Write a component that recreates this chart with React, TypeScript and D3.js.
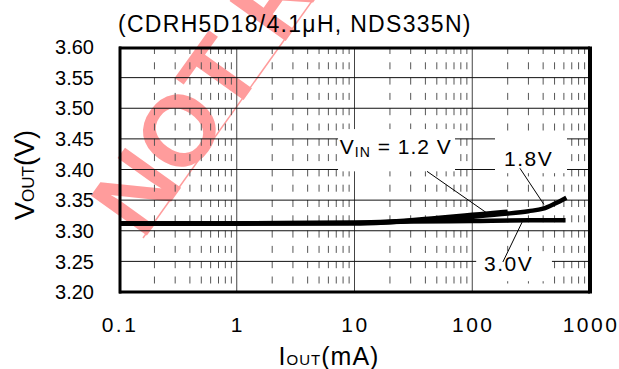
import React from "react";
import * as d3 from "d3";

const W = 619;
const H = 369;

// axes
const xDomain = [0.1, 1000];
const yDomain = [3.2, 3.6];
const xTickValues = [0.1, 1, 10, 100, 1000];
const xTickLabels = ["0.1", "1", "10", "100", "1000"];
const yTickValues = [3.2, 3.25, 3.3, 3.35, 3.4, 3.45, 3.5, 3.55, 3.6];

// series (IOUT mA, VOUT V)
const vin12X = [0.1, 1, 10, 20, 50, 100, 150, 200];
const vin12Y = [3.312, 3.312, 3.313, 3.315, 3.321, 3.326, 3.329, 3.331];
const vin18X = [0.1, 1, 10, 20, 50, 100, 200, 300, 400, 500, 630];
const vin18Y = [3.312, 3.312, 3.312, 3.314, 3.319, 3.323, 3.328, 3.332, 3.336, 3.344, 3.354];
const vin30X = [0.1, 1, 10, 30, 100, 300, 620];
const vin30Y = [3.312, 3.312, 3.313, 3.315, 3.316, 3.317, 3.317];

// annotations (data coordinates)
const labelBoxes = [
  { x1: 7.25, x2: 71.4, y1: 3.466, y2: 3.397 },
  { x1: 156, x2: 638, y1: 3.4546, y2: 3.394 },
  { x1: 108, x2: 475, y1: 3.2667, y2: 3.2176 },
];
const pointers = [
  { x1: 41.3, y1: 3.397, x2: 133, y2: 3.329 },
  { x1: 254, y1: 3.402, x2: 406, y2: 3.343 },
  { x1: 182, y1: 3.249, x2: 265, y2: 3.314 },
];

export default function App() {
  const left = 119, right = 590, top = 47, bottom = 292;
  const x = d3.scaleLog().domain(xDomain).range([left, right]);
  const y = d3.scaleLinear().domain(yDomain).range([bottom, top]);

  const line = d3
    .line<[number, number]>()
    .x((d) => x(d[0]))
    .y((d) => y(d[1]))
    .curve(d3.curveMonotoneX);

  const series = [
    vin30X.map((v, i) => [v, vin30Y[i]] as [number, number]),
    vin12X.map((v, i) => [v, vin12Y[i]] as [number, number]),
    vin18X.map((v, i) => [v, vin18Y[i]] as [number, number]),
  ];

  const minors: number[] = [];
  for (let e = -1; e < 3; e++) {
    for (let m = 2; m <= 9; m++) minors.push(m * Math.pow(10, e));
  }
  const font = "'Liberation Sans', Arial, sans-serif";

  return (
    <svg
      width={W}
      height={H}
      style={{ position: "absolute", left: 0, top: 0, background: "#fff" }}
      fontFamily={font}
    >
      <rect x={0} y={0} width={W} height={H} fill="#fff" />
      {/* watermark */}
      <g transform="translate(143,241) rotate(-54.5)">
        <text x={0} y={0} fontSize={100} fontWeight="bold" fill="#ff9c9c" fontFamily={font}>
          NOT RECOMMENDED
        </text>
      </g>
      <g transform="translate(143,238) rotate(-54.5)">
        <line x1={0} y1={0} x2={300} y2={0} stroke="#ff9c9c" strokeWidth={1.5} />
      </g>

      {/* minor dashed verticals */}
      {minors.map((m) => (
        <line
          key={"m" + m}
          x1={x(m)}
          x2={x(m)}
          y1={top}
          y2={bottom}
          stroke="#555"
          strokeWidth={1}
          strokeDasharray="7 8.3"
        />
      ))}
      {/* decade verticals */}
      {[1, 10, 100].map((v) => (
        <line key={"d" + v} x1={x(v)} x2={x(v)} y1={top} y2={bottom} stroke="#444" strokeWidth={1} />
      ))}
      {/* horizontal grid */}
      {yTickValues.slice(1, -1).map((v) => (
        <line key={"h" + v} x1={left} x2={right} y1={y(v)} y2={y(v)} stroke="#111" strokeWidth={1} />
      ))}

      {/* label boxes */}
      {labelBoxes.map((b, i) => (
        <rect
          key={"b" + i}
          x={x(b.x1)}
          y={y(b.y1)}
          width={x(b.x2) - x(b.x1)}
          height={y(b.y2) - y(b.y1)}
          fill="#fff"
        />
      ))}

      {/* curves */}
      {series.map((s, i) => (
        <path key={"s" + i} d={line(s) || ""} fill="none" stroke="#000" strokeWidth={4.5} strokeLinejoin="round" />
      ))}

      {/* pointers */}
      {pointers.map((p, i) => (
        <line key={"p" + i} x1={x(p.x1)} y1={y(p.y1)} x2={x(p.x2)} y2={y(p.y2)} stroke="#000" strokeWidth={1} />
      ))}

      {/* frame */}
      <line x1={left} x2={right} y1={top + 1} y2={top + 1} stroke="#000" strokeWidth={3} />
      <line x1={left} x2={right} y1={bottom} y2={bottom} stroke="#000" strokeWidth={3} />
      <line x1={left + 1} x2={left + 1} y1={top - 0.5} y2={bottom + 1.5} stroke="#000" strokeWidth={3} />
      <line x1={right} x2={right} y1={top - 0.5} y2={bottom + 1.5} stroke="#000" strokeWidth={4} />

      {/* y tick labels */}
      {yTickValues.map((v) => (
        <text key={"yt" + v} x={94} y={y(v)} dy="0.36em" textAnchor="end" fontSize={20} fill="#000">
          {d3.format(".2f")(v)}
        </text>
      ))}
      {/* x tick labels */}
      {xTickValues.map((v, i) => (
        <text key={"xt" + v} x={x(v) + 1} y={332} textAnchor="middle" fontSize={21} letterSpacing={2.5} fill="#000">
          {xTickLabels[i]}
        </text>
      ))}

      {/* title */}
      <text x={118} y={32} fontSize={23} letterSpacing={1.3} fill="#000">
        (CDRH5D18/4.1μH, NDS335N)
      </text>

      {/* series labels */}
      <text x={x(7.5)} y={y(3.425)} fontSize={21} fill="#000" letterSpacing={1}>
        V<tspan fontSize={14} dy={3}>IN</tspan>
        <tspan dy={-3}> = 1.2 V</tspan>
      </text>
      <text x={x(186)} y={y(3.4055)} fontSize={21} fill="#000" letterSpacing={1.5}>
        1.8V
      </text>
      <text x={x(126)} y={y(3.234)} fontSize={21} fill="#000" letterSpacing={1.5}>
        3.0V
      </text>

      {/* axis titles */}
      <text x={329} y={365} textAnchor="middle" fontSize={25} fill="#000" letterSpacing={1}>
        I<tspan fontSize={15}>OUT</tspan>(mA)
      </text>
      <text transform="translate(34,175) rotate(-90)" textAnchor="middle" fontSize={27} fill="#000">
        V<tspan fontSize={17}>OUT</tspan>(V)
      </text>
    </svg>
  );
}
